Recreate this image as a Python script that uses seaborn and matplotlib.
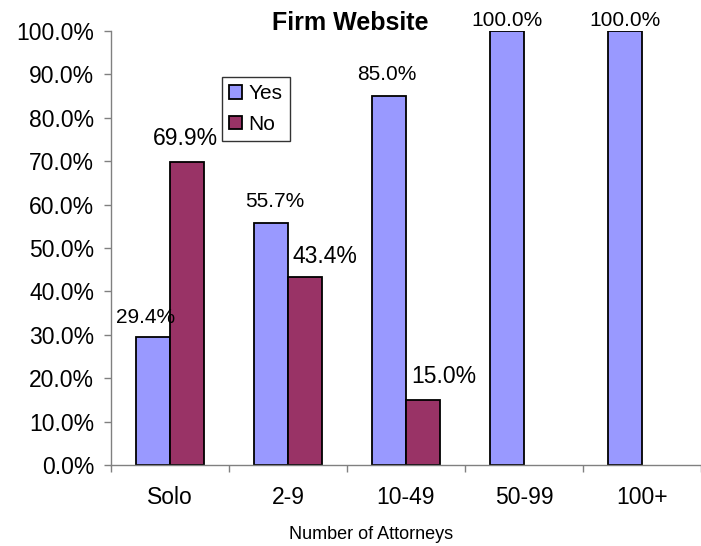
import numpy as np
import pandas as pd
import matplotlib
matplotlib.use("Agg")
import matplotlib.pyplot as plt
import seaborn as sns
from matplotlib.patches import Patch

# Share of firms with a website, by firm size
categories = ["Solo", "2-9", "10-49", "50-99", "100+"]
yes_values = [29.4, 55.7, 85.0, 100.0, 100.0]
no_values = [69.9, 43.4, 15.0, np.nan, np.nan]
series_names = ["Yes", "No"]
y_ticks = [0, 10, 20, 30, 40, 50, 60, 70, 80, 90, 100]

# Label nudges (pixels) relative to each bar's top centre
label_dx = {"Yes": [-7, 4, -2, 0, 0], "No": [-2, 20, 21, 0, 0]}
label_dy = {"Yes": [14, 16, 16, 5, 5], "No": [17, 14, 17, 0, 0]}
label_size = {"Yes": 15, "No": 16.5}

sns.set_theme(style="white")
plt.rcParams["font.family"] = ["Liberation Sans", "DejaVu Sans"]
plt.rcParams["text.color"] = "black"
plt.rcParams["axes.labelcolor"] = "black"
plt.rcParams["xtick.labelcolor"] = "black"
plt.rcParams["ytick.labelcolor"] = "black"

df = pd.DataFrame({
    "category": categories * 2,
    "series": ["Yes"] * len(categories) + ["No"] * len(categories),
    "value": yes_values + no_values,
})

W, H = 701, 546
fig = plt.figure(figsize=(W / 100, H / 100), dpi=100)
ax = fig.add_axes([111 / W, 1 - 465 / H, 590 / W, 434 / H])

palette = {"Yes": "#9999FF", "No": "#993366"}
sns.barplot(data=df, x="category", y="value", hue="series",
            order=categories, hue_order=series_names, palette=palette,
            width=0.576, edgecolor="black", linewidth=1.3,
            errorbar=None, legend=False, saturation=1, ax=ax)

# Value labels above bars
values = {"Yes": yes_values, "No": no_values}
for name, container in zip(series_names, ax.containers):
    present = [i for i, v in enumerate(values[name]) if not np.isnan(v)]
    for idx, bar in zip(present, container):
        h = bar.get_height()
        cx = bar.get_x() + bar.get_width() / 2
        ax.annotate(f"{h:.1f}%", xy=(cx, h),
                    xytext=(label_dx[name][idx], label_dy[name][idx]),
                    textcoords="offset pixels", ha="center", va="baseline",
                    fontsize=label_size[name], color="black",
                    annotation_clip=False)

ax.set_xlim(-0.5, len(categories) - 0.5)
ax.set_ylim(0, 100)
ax.set_yticks(y_ticks)
ax.set_yticklabels([f"{v:.1f}%" for v in y_ticks])
ax.set_xlabel("")
ax.set_ylabel("")

grey = "#808080"
for side in ["top", "right"]:
    ax.spines[side].set_visible(False)
for side in ["left", "bottom"]:
    ax.spines[side].set_color(grey)
    ax.spines[side].set_linewidth(1.0)

ax.tick_params(axis="y", which="major", direction="out", length=5,
               width=1, color=grey, labelcolor="black", labelsize=16.5,
               pad=7, left=True)
ax.tick_params(axis="x", which="major", length=0, labelcolor="black",
               labelsize=16.5, pad=15)
ax.set_xticks(np.arange(-0.5, len(categories)), minor=True)
ax.tick_params(axis="x", which="minor", direction="out", length=5,
               width=1, color=grey, bottom=True)

# Legend
handles = [Patch(facecolor=palette[n], edgecolor="black", linewidth=1.3)
           for n in series_names]
leg = ax.legend(handles, series_names, loc="upper left",
                bbox_to_anchor=(222 / W, 1 - 77 / H),
                bbox_transform=fig.transFigure, borderaxespad=0,
                fontsize=15, handlelength=0.63, handleheight=0.63,
                handletextpad=0.3, labelspacing=0.55, borderpad=0.35,
                frameon=True, fancybox=False)
leg.get_frame().set_edgecolor("black")
leg.get_frame().set_linewidth(1.0)
for t in leg.get_texts():
    t.set_color("black")

fig.text(350 / W, 1 - 30 / H, "Firm Website", ha="center", va="baseline",
         fontsize=18, fontweight="bold", color="black")
fig.text(371 / W, 1 - 539 / H, "Number of Attorneys", ha="center",
         va="baseline", fontsize=13, color="black")

fig.savefig("out.png", dpi=100)
